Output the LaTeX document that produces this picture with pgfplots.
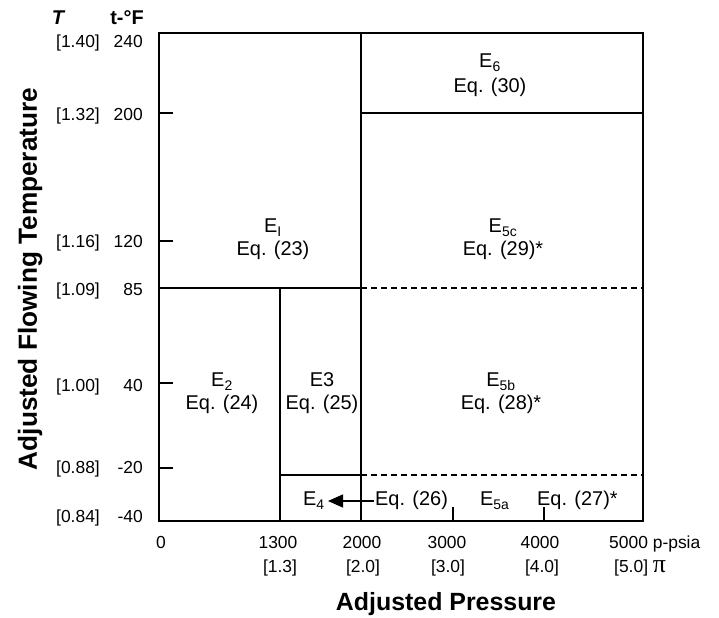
\documentclass[border=0pt]{standalone}
\usepackage{pgfplots}
\pgfplotsset{compat=1.18}
\usepackage{fontspec}
\setmainfont{Liberation Sans}
\newfontfamily\pifont{Liberation Serif}
\usetikzlibrary{arrows.meta}
\newcommand{\tl}{\fontsize{17.5}{20}\selectfont}
\newcommand{\rl}{\fontsize{20}{23}\selectfont}
\newcommand{\al}{\fontsize{25}{28}\selectfont\bfseries}
\begin{document}
\begin{tikzpicture}
\begin{axis}[
  x=1bp, y=1bp,
  xmin=159, xmax=643, ymin=97, ymax=585,
  clip=false,
  axis line style={line width=1.5bp, black},
  tick pos=left,
  tick align=inside,
  xtick={453,544}, ytick={150,235,377,505},
  xticklabels={}, yticklabels={},
  major tick length=14bp,
  tick style={black, line width=1.1bp},
]
% region boundaries (pixel-based coordinates of the reference)
\addplot[black, line width=1.2bp] coordinates {(361,97) (361,585)};
\addplot[black, line width=1.2bp] coordinates {(361,505) (643,505)};
\addplot[black, line width=1.2bp] coordinates {(159,330) (361,330)};
\addplot[black, line width=1.2bp, dash pattern=on 6bp off 4bp] coordinates {(361,330) (643,330)};
\addplot[black, line width=1.2bp] coordinates {(280,97) (280,330)};
\addplot[black, line width=1.2bp] coordinates {(280,143) (361,143)};
\addplot[black, line width=1.2bp, dash pattern=on 6bp off 4bp] coordinates {(361,143) (643,143)};
\addplot[black, line width=1.2bp, -{Triangle[length=15bp,width=13bp]}] coordinates {(374,117) (328,117)};

% region labels
\node[anchor=base] at (axis cs:490,550) {\rl E\textsubscript{6}};
\node[anchor=base] at (axis cs:490,525) {\rl Eq. (30)};
\node[anchor=base] at (axis cs:273,385) {\rl E\textsubscript{I}};
\node[anchor=base] at (axis cs:273,362) {\rl Eq. (23)};
\node[anchor=base] at (axis cs:503,385) {\rl E\textsubscript{5c}};
\node[anchor=base] at (axis cs:503,362) {\rl Eq. (29)*};
\node[anchor=base] at (axis cs:222,231) {\rl E\textsubscript{2}};
\node[anchor=base] at (axis cs:222,208) {\rl Eq. (24)};
\node[anchor=base] at (axis cs:322,231) {\rl E3};
\node[anchor=base] at (axis cs:322,208) {\rl Eq. (25)};
\node[anchor=base] at (axis cs:501,231) {\rl E\textsubscript{5b}};
\node[anchor=base] at (axis cs:501,208) {\rl Eq. (28)*};
\node[anchor=base west, inner sep=0pt] at (axis cs:303,112) {\rl E\textsubscript{4}};
\node[anchor=base west, inner sep=0pt] at (axis cs:375,112) {\rl Eq. (26)};
\node[anchor=base west, inner sep=0pt] at (axis cs:480,112) {\rl E\textsubscript{5a}};
\node[anchor=base west, inner sep=0pt] at (axis cs:537,112) {\rl Eq. (27)*};

% y tick labels
\node[anchor=base, inner sep=0pt] at (axis cs:58,593) {\fontsize{20}{22}\selectfont\bfseries\itshape T};
\node[anchor=base, inner sep=0pt] at (axis cs:127,593) {\fontsize{20}{22}\selectfont\bfseries t-°F};
\node[anchor=base east, inner sep=0pt] at (axis cs:100,570) {\tl[1.40]};
\node[anchor=base east, inner sep=0pt] at (axis cs:143,570) {\tl 240};
\node[anchor=base east, inner sep=0pt] at (axis cs:100,497) {\tl[1.32]};
\node[anchor=base east, inner sep=0pt] at (axis cs:143,497) {\tl 200};
\node[anchor=base east, inner sep=0pt] at (axis cs:100,370) {\tl[1.16]};
\node[anchor=base east, inner sep=0pt] at (axis cs:143,370) {\tl 120};
\node[anchor=base east, inner sep=0pt] at (axis cs:100,322) {\tl[1.09]};
\node[anchor=base east, inner sep=0pt] at (axis cs:143,322) {\tl 85};
\node[anchor=base east, inner sep=0pt] at (axis cs:100,226) {\tl[1.00]};
\node[anchor=base east, inner sep=0pt] at (axis cs:143,226) {\tl 40};
\node[anchor=base east, inner sep=0pt] at (axis cs:100,144) {\tl[0.88]};
\node[anchor=base east, inner sep=0pt] at (axis cs:143,144) {\tl -20};
\node[anchor=base east, inner sep=0pt] at (axis cs:100,95) {\tl[0.84]};
\node[anchor=base east, inner sep=0pt] at (axis cs:143,95) {\tl -40};

% x tick labels
\node[anchor=base, inner sep=0pt] at (axis cs:161,69) {\tl 0};
\node[anchor=base, inner sep=0pt] at (axis cs:278,69) {\tl 1300};
\node[anchor=base, inner sep=0pt] at (axis cs:362,69) {\tl 2000};
\node[anchor=base, inner sep=0pt] at (axis cs:447,69) {\tl 3000};
\node[anchor=base, inner sep=0pt] at (axis cs:540,69) {\tl 4000};
\node[anchor=base, inner sep=0pt] at (axis cs:280,45) {\tl [1.3]};
\node[anchor=base, inner sep=0pt] at (axis cs:363,45) {\tl [2.0]};
\node[anchor=base, inner sep=0pt] at (axis cs:448,45) {\tl [3.0]};
\node[anchor=base, inner sep=0pt] at (axis cs:542,45) {\tl [4.0]};
\node[anchor=base west, inner sep=0pt] at (axis cs:609,69) {\tl 5000 p-psia};
\node[anchor=base west, inner sep=0pt] at (axis cs:614,45) {\tl [5.0] {\pifont\fontsize{26}{26}\selectfont π}};

% axis titles
\node[anchor=base, inner sep=0pt] at (axis cs:446,8) {\al Adjusted Pressure};
\node[anchor=base, rotate=90, inner sep=0pt] at (axis cs:37,339) {\fontsize{26.3}{29}\selectfont\bfseries Adjusted Flowing Temperature};

\path (axis cs:0,0) rectangle (axis cs:719,618);
\end{axis}
\end{tikzpicture}
\end{document}
